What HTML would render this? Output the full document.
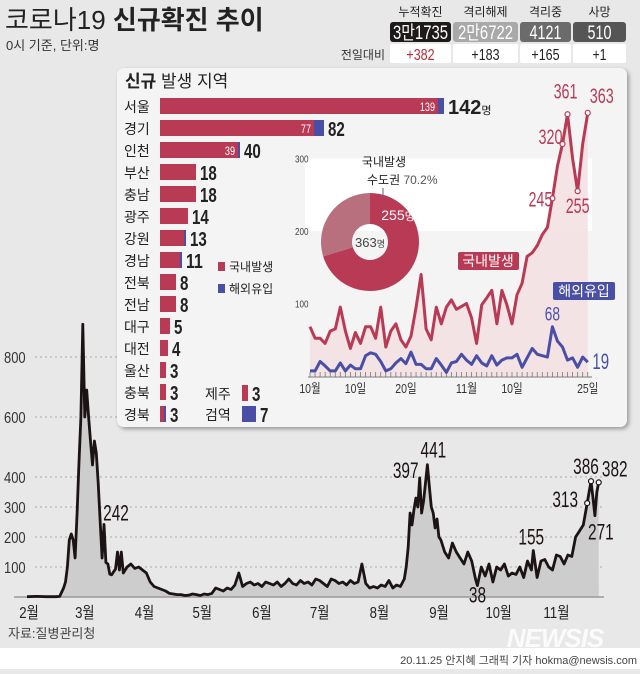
<!DOCTYPE html>
<html><head><meta charset="utf-8"><style>
body{margin:0;width:640px;height:669px;overflow:hidden;background:#e8e8e8;font-family:"Liberation Sans","Noto Sans CJK KR",sans-serif}
svg text{font-family:"Liberation Sans","Noto Sans CJK KR",sans-serif}
.n{font-family:"Liberation Sans Narrow","Liberation Sans","Noto Sans CJK KR",sans-serif}
</style></head><body>
<svg id="s" width="640" height="669" viewBox="0 0 640 669" xmlns="http://www.w3.org/2000/svg">
<defs><filter id="sh" x="-5%" y="-5%" width="110%" height="115%"><feDropShadow dx="2" dy="2" stdDeviation="2" flood-color="#000" flood-opacity="0.35"/></filter></defs>
<rect x="0" y="0" width="640" height="669" fill="#e8e8e8"/>
<rect x="0" y="648" width="640" height="21" fill="#fff"/>
<text x="5" y="29" font-size="26" fill="#222">코로나19 <tspan font-weight="bold">신규확진 추이</tspan></text>
<text x="6" y="50" font-size="13" fill="#333">0시 기준, 단위:명</text>
<g id="stats"></g>
<g id="main"></g>
<g id="panel"></g>
<text x="8" y="638" font-size="13" fill="#444">자료:질병관리청</text>
<text x="555" y="647" font-size="26" font-weight="bold" font-style="italic" fill="#fff" opacity="0.85" text-anchor="middle" letter-spacing="-1">NEWSIS</text>
<text x="637" y="664" font-size="11" fill="#444" text-anchor="end">20.11.25 안지혜 그래픽 기자 hokma@newsis.com</text>
</svg>
<script>
const mainDays=[0,5,10,15,17,19,20,21,22,23,
24,25,26,27,28,29,30,31,32,33,
34,35,36,37,38,39,40,41,42,43,
44,45,46,47,48,49,50,52,54,56,
58,60,62,64,66,68,70,72,74,76,
78,80,82,84,86,88,90,92,94,96,
98,100,102,104,106,108,110,112,114,116,
118,120,122,124,126,128,130,132,134,136,
138,140,142,144,146,148,150,152,154,156,
158,160,162,164,166,168,170,172,174,176,
178,180,182,184,186,188,
190,192,194,196,197,198,199,200,201,202,
203,204,205,206,208,209,210,211,212,213,
214,215,217,219,221,223,225,227,229,231,
233,234,236,238,240,242,244,246,248,250,
252,254,256,258,260,262,263,265,267,269,
271,273,275,277,279,281,283,285,287,289,
291,292,293,294,295,296,297];
const mainValues=[1,2,1,1,2,30,50,100,190,210,
190,130,280,450,600,909,600,690,600,520,
440,520,480,380,250,130,242,115,110,76,
74,84,93,150,90,150,80,100,110,95,
100,90,80,50,35,30,25,20,12,10,
8,8,5,6,10,8,5,10,8,12,
30,25,20,30,25,40,80,35,45,50,
40,45,35,50,45,40,50,35,45,60,
45,40,55,45,50,40,60,55,45,35,
60,55,45,50,40,55,45,50,110,45,
30,35,30,40,35,55,
30,40,35,60,100,166,280,240,290,330,
300,397,280,320,441,370,300,280,230,260,
200,190,150,130,180,150,130,110,150,120,
60,38,100,70,110,50,100,90,110,70,
80,75,100,65,120,90,155,65,120,125,
100,90,140,135,110,140,135,200,220,240,
313,350,386,330,271,349,382];
const mainYTicks=[100,200,300,400,600,800];
const mainMonths=['2월','3월','4월','5월','6월','7월','8월','9월','10월','11월'];
const mainMonthDays=[0,29,60,90,121,151,182,213,244,274];
const mainLabelDays=[40,204,208,234,263,291,293,295,297];
const regions=['서울','경기','인천','부산','충남','광주','강원','경남','전북','전남','대구','대전','울산','충북','경북'];
const regionDomestic=[139,77,39,18,18,14,12,10,8,8,5,4,3,3,2];
const regionImported=[3,5,1,0,0,0,1,1,0,0,0,0,0,0,1];
const regionTotals=[142,82,40,18,18,14,13,11,8,8,5,4,3,3,3];
const insetDomestic=[68,52,52,45,62,65,95,62,38,60,45,68,68,52,95,40,62,72,50,40,55,95,140,65,50,95,72,95,105,92,96,100,80,45,98,108,118,72,118,98,72,112,128,165,170,180,195,205,245,290,320,361,300,255,320,363];
const insetImported=[7,7,20,14,7,7,18,7,15,10,10,28,32,30,20,7,10,18,24,17,33,16,16,10,10,24,15,5,18,20,30,22,16,28,18,14,28,15,22,25,25,30,12,25,38,30,28,26,68,48,40,22,25,12,26,19];
const insetYTicks=[100,200,300];
const insetXLabels=['10월','10일','20일','11월','10일','25일'];
const insetXLabelDays=[0,9,19,31,40,55];
const insetMarkDays=[48,50,51,53,55];
const donutValues=[255,108];

const NS='http://www.w3.org/2000/svg';
function el(tag,attrs,parent,txt){const e=document.createElementNS(NS,tag);for(const k in attrs)e.setAttribute(k,attrs[k]);if(txt!==undefined)e.textContent=txt;parent.appendChild(e);return e;}
function cond(e,fs,f){const s=e.textContent;let w=0;for(const ch of s){w+=ch.charCodeAt(0)<128?(f||0.41):0.8;}e.setAttribute('textLength',(w*fs).toFixed(1));e.setAttribute('lengthAdjust','spacingAndGlyphs');return e;}
const RED='#b93a55',BLUE='#4a4fa6';

const st=document.getElementById('stats');
const cols=[['누적확진','3만1735','#1e1a1a','#fff','+382','#c0282f',390,61],['격리해제','2만6722','#a9a9a9','#fff','+183','#222',453,65],['격리중','4121','#6b6b6b','#fff','+165','#222',520,51],['사망','510','#555','#fff','+1','#222',573,53]];
cols.forEach(c=>{
  let t=el('text',{x:c[6]+c[7]/2,y:16,'font-size':12,fill:'#222','text-anchor':'middle'},st,c[0]);
  
  let r=el('rect',{x:c[6],y:22,width:c[7],height:20,rx:3,fill:c[2]},st);
  
  let v=el('text',{x:c[6]+c[7]/2,y:39,'font-size':19,fill:c[3],'text-anchor':'middle'},st,c[1]);
  cond(v,19,0.42);
  
  let r2=el('rect',{x:c[6],y:44,width:c[7],height:19,rx:2,fill:'#fff'},st);
  
  let d=el('text',{x:c[6]+c[7]/2,y:60,'font-size':16,fill:c[5],'text-anchor':'middle'},st,c[4]);
  cond(d,16,0.44);
  
});
let lt=el('text',{x:385,y:59,'font-size':12,fill:'#333','text-anchor':'end'},st,'전일대비');


const m=document.getElementById('main');
const mx=d=>27+d*1.925, my=v=>597-v*0.3;
mainYTicks.forEach(t=>{
  let g=el('line',{x1:35,x2:602,y1:my(t),y2:my(t),stroke:'#aaa','stroke-dasharray':'2,3','stroke-width':1},m);
  
  let l=el('text',{x:4,y:my(t)+6,'font-size':16,fill:'#333'},m,t);
  cond(l,16,0.45);
  
});
let pts=mainDays.map((d,i)=>mx(d).toFixed(1)+','+my(mainValues[i]).toFixed(1));
let area=el('path',{d:'M'+mx(mainDays[0])+','+my(0)+' L'+pts.join(' L')+' L'+mx(mainDays[mainDays.length-1])+','+my(0)+'Z',fill:'#cdcdcd'},m);

let base=el('line',{x1:14,x2:604,y1:597,y2:597,stroke:'#999','stroke-width':1.5},m);

let line=el('polyline',{points:pts.join(' '),fill:'none',stroke:'#1c1414','stroke-width':2.8,'stroke-linejoin':'round'},m);

mainMonths.forEach((mo,i)=>{
  let t=el('text',{x:mx(mainMonthDays[i])+2,y:618,'font-size':16,fill:'#222','text-anchor':'middle'},m,mo);
  cond(t,16,0.42);
  
});
const labOff=[[12,-4],[-14,0],[6,-7],[0,17],[-2,-6],[-22,4],[-5,-7],[6,24],[16,-6]];
const markIdx=[5,6,8];
mainLabelDays.forEach((d,i)=>{
  const v=mainValues[mainDays.indexOf(d)];
  if(markIdx.indexOf(i)>=0){let c=el('circle',{cx:mx(d),cy:my(v),r:2.5,fill:'#fff',stroke:'#1c1414','stroke-width':1.2},m);}
  let t=el('text',{x:mx(d)+labOff[i][0],y:my(v)+labOff[i][1],'font-size':22,fill:'#1c1414','text-anchor':'middle'},m,v);
  cond(t,22,0.39);
  
});

const p=document.getElementById('panel');
let box=el('rect',{x:117,y:68,width:510,height:359,rx:7,fill:'#f4f4f4',filter:'url(#sh)'},p);

let pt=el('text',{x:125,y:87,'font-size':17,fill:'#222'},p);
pt.innerHTML='<tspan font-weight="bold">신규</tspan> 발생 지역';


const ix=d=>310+d*5.05, iy=v=>376-v*0.725;
let band=el('rect',{x:305,y:iy(300),width:287,height:iy(200)-iy(300),fill:'#fff'},p);

insetYTicks.forEach(t=>{
  let l=el('text',{x:295,y:iy(t)+4,'font-size':10,fill:'#444'},p,t);
  cond(l,10,0.45);
  
});
let rp=insetDomestic.map((v,i)=>ix(i).toFixed(1)+','+iy(v).toFixed(1));
let ra=el('path',{d:'M'+ix(0)+','+iy(0)+' L'+rp.join(' L')+' L'+ix(55)+','+iy(0)+'Z',fill:'#f3dfe2',opacity:0.85},p);

let ax=el('line',{x1:308,x2:592,y1:377,y2:377,stroke:'#777'},p);

for(let i=0;i<56;i++){let tk=el('line',{x1:ix(i),x2:ix(i),y1:372,y2:377,stroke:'#777','stroke-width':0.8},p);}
let rl=el('polyline',{points:rp.join(' '),fill:'none',stroke:RED,'stroke-width':3,'stroke-linejoin':'round'},p);

let bl=el('polyline',{points:insetImported.map((v,i)=>ix(i).toFixed(1)+','+iy(v).toFixed(1)).join(' '),fill:'none',stroke:BLUE,'stroke-width':3,'stroke-linejoin':'round'},p);

insetXLabels.forEach((l,i)=>{
  let t=el('text',{x:ix(insetXLabelDays[i]),y:393,'font-size':13,fill:'#333','text-anchor':'middle'},p,l);
  cond(t,13,0.42);
  
});
const mOff=[[-12,8],[-12,0],[-2,-16],[0,22],[14,-10]];
insetMarkDays.forEach((d,i)=>{
  const v=insetDomestic[d];
  let c=el('circle',{cx:ix(d),cy:iy(v),r:2.5,fill:'#fff',stroke:RED,'stroke-width':1.2},p);
  
  let t=el('text',{x:ix(d)+mOff[i][0],y:iy(v)+mOff[i][1],'font-size':21,fill:RED,'text-anchor':'middle'},p,v);
  cond(t,21,0.38);
  
});
let t68=el('text',{x:ix(48),y:iy(insetImported[48])-6,'font-size':19,fill:BLUE,'text-anchor':'middle'},p,insetImported[48]);
cond(t68,19,0.4);

let t19=el('text',{x:ix(55)+13,y:iy(insetImported[55])+7,'font-size':22,fill:BLUE,'text-anchor':'middle'},p,insetImported[55]);
cond(t19,22,0.38);

let rb=el('rect',{x:458,y:252,width:61,height:18,rx:2,fill:RED},p);
let rbt=el('text',{x:488,y:266,'font-size':14,fill:'#fff','text-anchor':'middle'},p,'국내발생');
let bb=el('rect',{x:553,y:282,width:62,height:18,rx:2,fill:BLUE},p);
let bbt=el('text',{x:584,y:296,'font-size':14,fill:'#fff','text-anchor':'middle'},p,'해외유입');

const cx=370,cy=242,R=49,r0=18,tot=donutValues[0]+donutValues[1];
function arc(a0,a1){const f=a=>[cx+R*Math.sin(a),cy-R*Math.cos(a)],g=a=>[cx+r0*Math.sin(a),cy-r0*Math.cos(a)];const L=(a1-a0)>Math.PI?1:0;const [x0,y0]=f(a0),[x1,y1]=f(a1),[x2,y2]=g(a1),[x3,y3]=g(a0);return `M${x0},${y0} A${R},${R} 0 ${L} 1 ${x1},${y1} L${x2},${y2} A${r0},${r0} 0 ${L} 0 ${x3},${y3}Z`;}
const a1=2*Math.PI*donutValues[0]/tot;
let s1=el('path',{d:arc(0,a1),fill:RED},p);
let s2=el('path',{d:arc(a1,2*Math.PI-0.0001),fill:'#b8707f'},p);
let dc=el('text',{x:cx,y:cy+5,'font-size':13,fill:'#444','text-anchor':'middle'},p);dc.innerHTML=tot+'<tspan font-size="9">명</tspan>';
let dv=el('text',{x:cx+28,y:220,'font-size':14,fill:'#fff','text-anchor':'middle'},p);dv.innerHTML=donutValues[0]+'<tspan font-size="11">명</tspan>';
let d1=el('text',{x:384,y:166,'font-size':12,fill:'#222','text-anchor':'middle'},p,'국내발생');
let d2=el('text',{x:367,y:184,'font-size':12,fill:'#222'},p);d2.innerHTML='수도권<tspan fill="#555"> 70.2%</tspan>';
let dl=el('line',{x1:383,x2:383,y1:188,y2:198,stroke:'#666'},p);

const bx=160, bs=2.0;
regions.forEach((rg,i)=>{
  const y=106+i*22;
  let t=el('text',{x:124,y:y+6,'font-size':14,fill:'#222'},p,rg);
  const wd=Math.max(regionDomestic[i]*bs,3),wi=regionImported[i]*bs;
  let b1=el('rect',{x:bx,y:y-8,width:wd,height:16,fill:RED},p);
  if(wi>0){let b2=el('rect',{x:bx+wd,y:y-8,width:wi,height:16,fill:BLUE},p);}
  if(regionDomestic[i]>30){let it=el('text',{x:bx+wd-3,y:y+5,'font-size':12,fill:'#fff','text-anchor':'end'},p,regionDomestic[i]);cond(it,12,0.42);}
  let vt=el('text',{x:bx+wd+wi+4,y:y+8,'font-size':20,'font-weight':'bold',fill:'#222'},p);vt.textContent=regionTotals[i];
  if(i===0){vt.innerHTML=regionTotals[i]+'<tspan font-size="11" font-weight="normal">명</tspan>';}
  else{cond(vt,20,0.42);}
  
});
[['제주',3,0,393],['검역',0,7,414]].forEach(r=>{
  let t=el('text',{x:205,y:r[3]+6,'font-size':14,fill:'#222'},p,r[0]);
  let w=(r[1]+r[2])*bs;
  let b=el('rect',{x:242,y:r[3]-8,width:w,height:16,fill:r[1]?RED:BLUE},p);
  let v=el('text',{x:242+w+4,y:r[3]+8,'font-size':20,'font-weight':'bold',fill:'#222'},p,r[1]+r[2]);cond(v,20,0.42);
});
[['국내발생',RED,270],['해외유입',BLUE,292]].forEach(l=>{
  let s=el('rect',{x:218,y:l[2]-8,width:7,height:9,fill:l[1]},p);
  let t=el('text',{x:229,y:l[2]+1,'font-size':12,fill:'#222'},p,l[0]);
});
</script>
</body></html>
